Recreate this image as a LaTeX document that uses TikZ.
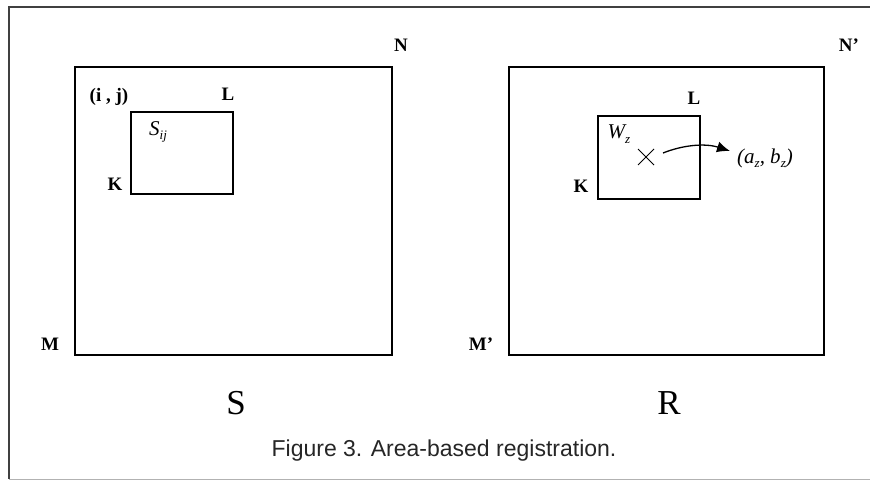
\documentclass[tikz,border=0pt]{standalone}
\usepackage{fontspec}
\setmainfont{Liberation Serif}
\newfontfamily\capfont{Liberation Sans}
\usetikzlibrary{arrows.meta}
\newcommand{\mysub}[1]{\raisebox{-0.45ex}{\fontsize{13}{13}\selectfont\itshape #1}}
\begin{document}
\begin{tikzpicture}[x=1pt,y=-1pt,
  frame/.style={line width=1.2pt, draw=black!75},
  img/.style={draw, line width=1.2pt},
  win/.style={draw, line width=1.3pt},
  lbl/.style={font=\fontsize{19}{19}\selectfont\bfseries, inner sep=0pt},
  big/.style={font=\fontsize{35}{35}\selectfont, inner sep=0pt},
  ital/.style={font=\fontsize{21}{21}\selectfont\itshape, inner sep=0pt}]
\useasboundingbox (0,0) rectangle (870,481);
% outer frame (open right side)
\draw[frame] (870,7) -- (9,7) -- (9,479);
\draw[line width=1pt, draw=black!30] (9,479) -- (870,479);
% left image
\draw[img] (75,67) rectangle (392,355);
\draw[win] (131,112) rectangle (233,194);
\node[lbl] (N) at (401,45) {N};
\node[lbl] (ij) at (109,97) {(i , j)};
\node[lbl] (L1) at (228,94) {L};
\node[ital] (Sij) at (158,132) {S\mysub{ij}};
\node[lbl] (K1) at (115,184) {K};
\node[lbl] (M) at (50,344) {M};
\node[big] (S) at (236,403) {S};
% right image
\draw[img] (509,67) rectangle (824,355);
\draw[win] (598,116) rectangle (700,199);
\node[lbl] (N2) at (849,45) {N'};
\node[lbl] (L2) at (694,98) {L};
\node[ital] (Wz) at (619,134) {W\mysub{z}};
\node[lbl] (K2) at (581,186) {K};
\node[lbl] (M2) at (481,344) {M'};
\node[big] (R) at (669,403) {R};
\node[inner sep=0pt] (X) at (646,157) {};
\draw[line width=1pt] (638,149) -- (654,165) (638,165) -- (654,149);
\coordinate (a0) at (663,153);
\coordinate (tip) at (730,151);
\node[ital, anchor=west] (ab) at (737,158) {(a\mysub{z}, b\mysub{z})};
\draw[line width=1.3pt, -{Latex[length=13pt,width=11pt]}] (a0) .. controls (683,145) and (705,143) .. (tip);
% caption
\node[font=\capfont\fontsize{23}{23}\selectfont, text=black!85, inner sep=0pt] (cap) at (444,451) {Figure 3. Area-based registration.};
\end{tikzpicture}
\end{document}
